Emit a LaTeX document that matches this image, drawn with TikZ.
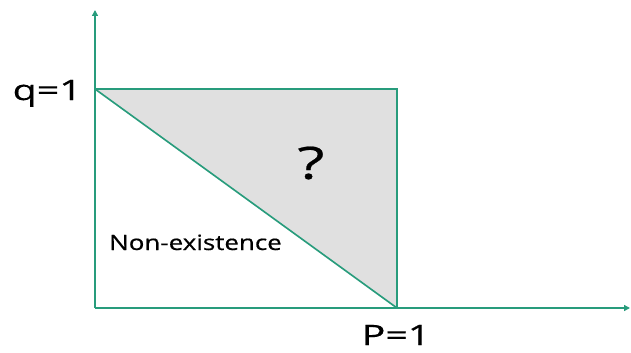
\documentclass[tikz,border=0pt]{standalone}
\usepackage{fontspec}
\setmainfont{Open Sans}
\newfontfamily\labelfont[UprightFeatures={FakeBold=0.5}]{Open Sans}
\usetikzlibrary{positioning, calc, arrows.meta}
\definecolor{axisgreen}{RGB}{40,156,124}
\definecolor{regiongray}{RGB}{224,224,224}
\newcommand{\widetext}[2]{\scalebox{#1}[1]{#2}}

\begin{document}
\begin{tikzpicture}[x=0.03cm, y=-0.03cm,
    axis/.style={axisgreen, line width=1.4pt, -{Triangle[length=5pt, width=5pt]}},
    edge/.style={axisgreen, line width=1.4pt},
    biglabel/.style={font=\fontsize{24}{28}\selectfont\labelfont, inner sep=0pt}]
  \useasboundingbox (0,0) rectangle (631,352);
  \coordinate (O) at (95,308);
  \coordinate (Q) at (95,89);
  \coordinate (C) at (397,89);
  \coordinate (P) at (397,308);
  \coordinate (Ytop) at (95,10);
  \coordinate (Xend) at (630,308);
  % the shaded region
  \fill[regiongray] (Q) -- (C) -- (P) -- cycle;
  \draw[axis] (O) -- (Ytop);
  \draw[axis] (O) -- (Xend);
  \draw[edge] (Q) -- (C) -- (P);
  \draw[edge] (Q) -- (P);
  \node[biglabel, anchor=base east] (qlab) at (82,100) {\widetext{1.4}{q=1}};
  \node[biglabel, anchor=base] (plab) at (396,345) {\widetext{1.4}{P=1}};
  \node[font=\fontsize{38}{42}\selectfont\labelfont, inner sep=0pt] (ques) at (311,163) {\widetext{1.4}{?}};
  \node[font=\fontsize{18}{22}\selectfont\labelfont, anchor=base west, inner sep=0pt] (nonex) at (109,250) {\widetext{1.23}{Non-existence}};
\end{tikzpicture}
\end{document}
